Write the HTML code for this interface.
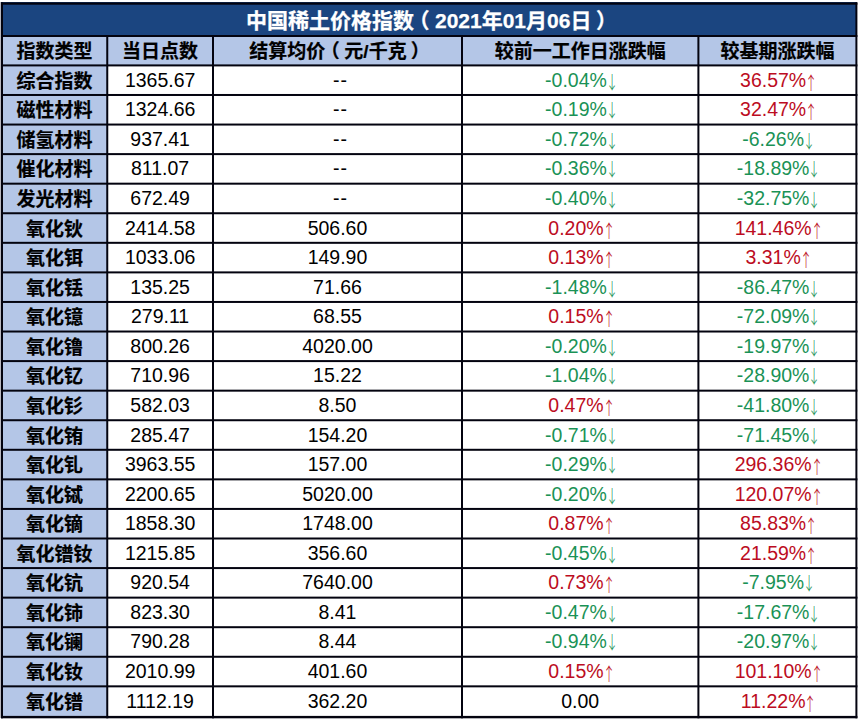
<!DOCTYPE html><html><head><meta charset="utf-8"><style>
html,body{margin:0;padding:0;background:#fff;width:859px;height:725px;overflow:hidden;position:relative}
.a{position:absolute}
.c{position:absolute;display:flex;align-items:center;justify-content:center;white-space:nowrap}
.t{font-family:"Liberation Sans","Noto Sans CJK SC",sans-serif;font-weight:700;-webkit-text-stroke:0.25px currentColor;color:#fff;font-size:21px}
.h{font-family:"Liberation Sans","Noto Sans CJK SC",sans-serif;font-weight:700;-webkit-text-stroke:0.2px currentColor;color:#000;font-size:19px}
.n{font-family:"Liberation Sans","Noto Sans CJK SC",sans-serif;color:#000;font-size:19.5px}
.g{color:#1a9256}
.r{color:#bc0c22}
.ac{display:inline-block;font-family:"Noto Sans CJK SC",sans-serif;font-weight:300;font-size:18px;margin-left:-4px;margin-right:-5.5px;position:relative;top:0px;transform:scaleX(0.7);opacity:1}
.acu{top:1.5px}
.pp{display:inline-block;width:21px;position:relative}
.hp{display:inline-block;width:19px;position:relative}
.dd{position:relative;left:3px;letter-spacing:1px}
svg.grid{position:absolute;left:0;top:0}

</style></head><body>
<div class="a" style="left:1px;top:2px;width:856px;height:33px;background:#1b4580"></div>
<div class="a" style="left:1px;top:35px;width:856px;height:30px;background:#b4c6e7"></div>
<div class="a" style="left:1px;top:65px;width:106px;height:652px;background:#b4c6e7"></div>
<div class="a" style="left:0;top:2px;width:1px;height:716px;background:#b8b8c0"></div>
<div class="c t" style="left:1px;top:3.7px;width:856.4px;height:30.3px">中国稀土价格指数<span class="pp" style="left:-5.5px">（</span>2021年01月06日<span class="pp" style="left:4.5px">）</span></div>
<div class="c h" style="left:3px;top:35.5px;width:103.25px;height:27.41px">指数类型</div>
<div class="c h" style="left:108.25px;top:35.5px;width:103.75px;height:27.41px">当日点数</div>
<div class="c h" style="left:214px;top:35.5px;width:247px;height:27.41px">结算均价<span class="hp" style="left:-4.5px">（</span>元/千克<span class="hp" style="left:4px">）</span></div>
<div class="c h" style="left:463px;top:35.5px;width:234.4px;height:27.41px">较前一工作日涨跌幅</div>
<div class="c h" style="left:699.4px;top:35.5px;width:156px;height:27.41px">较基期涨跌幅</div>
<div class="c h" style="left:3px;top:65.91px;width:103.25px;height:27.57px">综合指数</div>
<div class="c n" style="left:108.25px;top:66.91px;width:103.75px;height:27.57px">1365.67</div>
<div class="c n" style="left:214px;top:66.91px;width:247px;height:27.57px"><span class="dd">--</span></div>
<div class="c n g" style="left:463px;top:66.91px;width:234.4px;height:27.57px"><span class="v">-0.04%</span><span class="ac">↓</span></div>
<div class="c n r" style="left:699.4px;top:66.91px;width:156px;height:27.57px"><span class="v">36.57%</span><span class="ac acu">↑</span></div>
<div class="c h" style="left:3px;top:94.48px;width:103.25px;height:27.57px">磁性材料</div>
<div class="c n" style="left:108.25px;top:95.48px;width:103.75px;height:27.57px">1324.66</div>
<div class="c n" style="left:214px;top:95.48px;width:247px;height:27.57px"><span class="dd">--</span></div>
<div class="c n g" style="left:463px;top:95.48px;width:234.4px;height:27.57px"><span class="v">-0.19%</span><span class="ac">↓</span></div>
<div class="c n r" style="left:699.4px;top:95.48px;width:156px;height:27.57px"><span class="v">32.47%</span><span class="ac acu">↑</span></div>
<div class="c h" style="left:3px;top:125.05px;width:103.25px;height:27.57px">储氢材料</div>
<div class="c n" style="left:108.25px;top:126.05px;width:103.75px;height:27.57px">937.41</div>
<div class="c n" style="left:214px;top:126.05px;width:247px;height:27.57px"><span class="dd">--</span></div>
<div class="c n g" style="left:463px;top:126.05px;width:234.4px;height:27.57px"><span class="v">-0.72%</span><span class="ac">↓</span></div>
<div class="c n g" style="left:699.4px;top:126.05px;width:156px;height:27.57px"><span class="v">-6.26%</span><span class="ac">↓</span></div>
<div class="c h" style="left:3px;top:153.61px;width:103.25px;height:27.57px">催化材料</div>
<div class="c n" style="left:108.25px;top:154.61px;width:103.75px;height:27.57px">811.07</div>
<div class="c n" style="left:214px;top:154.61px;width:247px;height:27.57px"><span class="dd">--</span></div>
<div class="c n g" style="left:463px;top:154.61px;width:234.4px;height:27.57px"><span class="v">-0.36%</span><span class="ac">↓</span></div>
<div class="c n g" style="left:699.4px;top:154.61px;width:156px;height:27.57px"><span class="v">-18.89%</span><span class="ac">↓</span></div>
<div class="c h" style="left:3px;top:184.18px;width:103.25px;height:27.57px">发光材料</div>
<div class="c n" style="left:108.25px;top:185.18px;width:103.75px;height:27.57px">672.49</div>
<div class="c n" style="left:214px;top:185.18px;width:247px;height:27.57px"><span class="dd">--</span></div>
<div class="c n g" style="left:463px;top:185.18px;width:234.4px;height:27.57px"><span class="v">-0.40%</span><span class="ac">↓</span></div>
<div class="c n g" style="left:699.4px;top:185.18px;width:156px;height:27.57px"><span class="v">-32.75%</span><span class="ac">↓</span></div>
<div class="c h" style="left:3px;top:213.75px;width:103.25px;height:27.57px">氧化钬</div>
<div class="c n" style="left:108.25px;top:214.75px;width:103.75px;height:27.57px">2414.58</div>
<div class="c n" style="left:214px;top:214.75px;width:247px;height:27.57px">506.60</div>
<div class="c n r" style="left:463px;top:214.75px;width:234.4px;height:27.57px"><span class="v">0.20%</span><span class="ac acu">↑</span></div>
<div class="c n r" style="left:699.4px;top:214.75px;width:156px;height:27.57px"><span class="v">141.46%</span><span class="ac acu">↑</span></div>
<div class="c h" style="left:3px;top:242.32px;width:103.25px;height:27.57px">氧化铒</div>
<div class="c n" style="left:108.25px;top:243.32px;width:103.75px;height:27.57px">1033.06</div>
<div class="c n" style="left:214px;top:243.32px;width:247px;height:27.57px">149.90</div>
<div class="c n r" style="left:463px;top:243.32px;width:234.4px;height:27.57px"><span class="v">0.13%</span><span class="ac acu">↑</span></div>
<div class="c n r" style="left:699.4px;top:243.32px;width:156px;height:27.57px"><span class="v">3.31%</span><span class="ac acu">↑</span></div>
<div class="c h" style="left:3px;top:272.89px;width:103.25px;height:27.57px">氧化铥</div>
<div class="c n" style="left:108.25px;top:273.89px;width:103.75px;height:27.57px">135.25</div>
<div class="c n" style="left:214px;top:273.89px;width:247px;height:27.57px">71.66</div>
<div class="c n g" style="left:463px;top:273.89px;width:234.4px;height:27.57px"><span class="v">-1.48%</span><span class="ac">↓</span></div>
<div class="c n g" style="left:699.4px;top:273.89px;width:156px;height:27.57px"><span class="v">-86.47%</span><span class="ac">↓</span></div>
<div class="c h" style="left:3px;top:301.45px;width:103.25px;height:27.57px">氧化镱</div>
<div class="c n" style="left:108.25px;top:302.45px;width:103.75px;height:27.57px">279.11</div>
<div class="c n" style="left:214px;top:302.45px;width:247px;height:27.57px">68.55</div>
<div class="c n r" style="left:463px;top:302.45px;width:234.4px;height:27.57px"><span class="v">0.15%</span><span class="ac acu">↑</span></div>
<div class="c n g" style="left:699.4px;top:302.45px;width:156px;height:27.57px"><span class="v">-72.09%</span><span class="ac">↓</span></div>
<div class="c h" style="left:3px;top:332.02px;width:103.25px;height:27.57px">氧化镥</div>
<div class="c n" style="left:108.25px;top:333.02px;width:103.75px;height:27.57px">800.26</div>
<div class="c n" style="left:214px;top:333.02px;width:247px;height:27.57px">4020.00</div>
<div class="c n g" style="left:463px;top:333.02px;width:234.4px;height:27.57px"><span class="v">-0.20%</span><span class="ac">↓</span></div>
<div class="c n g" style="left:699.4px;top:333.02px;width:156px;height:27.57px"><span class="v">-19.97%</span><span class="ac">↓</span></div>
<div class="c h" style="left:3px;top:360.59px;width:103.25px;height:27.57px">氧化钇</div>
<div class="c n" style="left:108.25px;top:361.59px;width:103.75px;height:27.57px">710.96</div>
<div class="c n" style="left:214px;top:361.59px;width:247px;height:27.57px">15.22</div>
<div class="c n g" style="left:463px;top:361.59px;width:234.4px;height:27.57px"><span class="v">-1.04%</span><span class="ac">↓</span></div>
<div class="c n g" style="left:699.4px;top:361.59px;width:156px;height:27.57px"><span class="v">-28.90%</span><span class="ac">↓</span></div>
<div class="c h" style="left:3px;top:391.16px;width:103.25px;height:27.57px">氧化钐</div>
<div class="c n" style="left:108.25px;top:392.16px;width:103.75px;height:27.57px">582.03</div>
<div class="c n" style="left:214px;top:392.16px;width:247px;height:27.57px">8.50</div>
<div class="c n r" style="left:463px;top:392.16px;width:234.4px;height:27.57px"><span class="v">0.47%</span><span class="ac acu">↑</span></div>
<div class="c n g" style="left:699.4px;top:392.16px;width:156px;height:27.57px"><span class="v">-41.80%</span><span class="ac">↓</span></div>
<div class="c h" style="left:3px;top:420.23px;width:103.25px;height:27.57px">氧化铕</div>
<div class="c n" style="left:108.25px;top:421.23px;width:103.75px;height:27.57px">285.47</div>
<div class="c n" style="left:214px;top:421.23px;width:247px;height:27.57px">154.20</div>
<div class="c n g" style="left:463px;top:421.23px;width:234.4px;height:27.57px"><span class="v">-0.71%</span><span class="ac">↓</span></div>
<div class="c n g" style="left:699.4px;top:421.23px;width:156px;height:27.57px"><span class="v">-71.45%</span><span class="ac">↓</span></div>
<div class="c h" style="left:3px;top:449.29px;width:103.25px;height:27.57px">氧化钆</div>
<div class="c n" style="left:108.25px;top:450.29px;width:103.75px;height:27.57px">3963.55</div>
<div class="c n" style="left:214px;top:450.29px;width:247px;height:27.57px">157.00</div>
<div class="c n g" style="left:463px;top:450.29px;width:234.4px;height:27.57px"><span class="v">-0.29%</span><span class="ac">↓</span></div>
<div class="c n r" style="left:699.4px;top:450.29px;width:156px;height:27.57px"><span class="v">296.36%</span><span class="ac acu">↑</span></div>
<div class="c h" style="left:3px;top:479.86px;width:103.25px;height:27.57px">氧化铽</div>
<div class="c n" style="left:108.25px;top:480.86px;width:103.75px;height:27.57px">2200.65</div>
<div class="c n" style="left:214px;top:480.86px;width:247px;height:27.57px">5020.00</div>
<div class="c n g" style="left:463px;top:480.86px;width:234.4px;height:27.57px"><span class="v">-0.20%</span><span class="ac">↓</span></div>
<div class="c n r" style="left:699.4px;top:480.86px;width:156px;height:27.57px"><span class="v">120.07%</span><span class="ac acu">↑</span></div>
<div class="c h" style="left:3px;top:508.43px;width:103.25px;height:27.57px">氧化镝</div>
<div class="c n" style="left:108.25px;top:509.43px;width:103.75px;height:27.57px">1858.30</div>
<div class="c n" style="left:214px;top:509.43px;width:247px;height:27.57px">1748.00</div>
<div class="c n r" style="left:463px;top:509.43px;width:234.4px;height:27.57px"><span class="v">0.87%</span><span class="ac acu">↑</span></div>
<div class="c n r" style="left:699.4px;top:509.43px;width:156px;height:27.57px"><span class="v">85.83%</span><span class="ac acu">↑</span></div>
<div class="c h" style="left:3px;top:539px;width:103.25px;height:27.57px">氧化镨钕</div>
<div class="c n" style="left:108.25px;top:540px;width:103.75px;height:27.57px">1215.85</div>
<div class="c n" style="left:214px;top:540px;width:247px;height:27.57px">356.60</div>
<div class="c n g" style="left:463px;top:540px;width:234.4px;height:27.57px"><span class="v">-0.45%</span><span class="ac">↓</span></div>
<div class="c n r" style="left:699.4px;top:540px;width:156px;height:27.57px"><span class="v">21.59%</span><span class="ac acu">↑</span></div>
<div class="c h" style="left:3px;top:567.57px;width:103.25px;height:27.57px">氧化钪</div>
<div class="c n" style="left:108.25px;top:568.57px;width:103.75px;height:27.57px">920.54</div>
<div class="c n" style="left:214px;top:568.57px;width:247px;height:27.57px">7640.00</div>
<div class="c n r" style="left:463px;top:568.57px;width:234.4px;height:27.57px"><span class="v">0.73%</span><span class="ac acu">↑</span></div>
<div class="c n g" style="left:699.4px;top:568.57px;width:156px;height:27.57px"><span class="v">-7.95%</span><span class="ac">↓</span></div>
<div class="c h" style="left:3px;top:598.13px;width:103.25px;height:27.57px">氧化铈</div>
<div class="c n" style="left:108.25px;top:599.13px;width:103.75px;height:27.57px">823.30</div>
<div class="c n" style="left:214px;top:599.13px;width:247px;height:27.57px">8.41</div>
<div class="c n g" style="left:463px;top:599.13px;width:234.4px;height:27.57px"><span class="v">-0.47%</span><span class="ac">↓</span></div>
<div class="c n g" style="left:699.4px;top:599.13px;width:156px;height:27.57px"><span class="v">-17.67%</span><span class="ac">↓</span></div>
<div class="c h" style="left:3px;top:626.7px;width:103.25px;height:27.57px">氧化镧</div>
<div class="c n" style="left:108.25px;top:627.7px;width:103.75px;height:27.57px">790.28</div>
<div class="c n" style="left:214px;top:627.7px;width:247px;height:27.57px">8.44</div>
<div class="c n g" style="left:463px;top:627.7px;width:234.4px;height:27.57px"><span class="v">-0.94%</span><span class="ac">↓</span></div>
<div class="c n g" style="left:699.4px;top:627.7px;width:156px;height:27.57px"><span class="v">-20.97%</span><span class="ac">↓</span></div>
<div class="c h" style="left:3px;top:656.27px;width:103.25px;height:27.57px">氧化钕</div>
<div class="c n" style="left:108.25px;top:657.27px;width:103.75px;height:27.57px">2010.99</div>
<div class="c n" style="left:214px;top:657.27px;width:247px;height:27.57px">401.60</div>
<div class="c n r" style="left:463px;top:657.27px;width:234.4px;height:27.57px"><span class="v">0.15%</span><span class="ac acu">↑</span></div>
<div class="c n r" style="left:699.4px;top:657.27px;width:156px;height:27.57px"><span class="v">101.10%</span><span class="ac acu">↑</span></div>
<div class="c h" style="left:3px;top:686.84px;width:103.25px;height:27.57px">氧化镨</div>
<div class="c n" style="left:108.25px;top:687.84px;width:103.75px;height:27.57px">1112.19</div>
<div class="c n" style="left:214px;top:687.84px;width:247px;height:27.57px">362.20</div>
<div class="c n " style="left:463px;top:687.84px;width:234.4px;height:27.57px">0.00</div>
<div class="c n r" style="left:699.4px;top:687.84px;width:156px;height:27.57px"><span class="v">11.22%</span><span class="ac acu">↑</span></div>
<svg class="grid" width="859" height="725" viewBox="0 0 859 725" fill="#03030f">
<rect x="1" y="2.4" width="856.4" height="2.3"/>
<rect x="1" y="35" width="856.4" height="2"/>
<rect x="1" y="64.41" width="856.4" height="2"/>
<rect x="1" y="93.98" width="856.4" height="2"/>
<rect x="1" y="123.55" width="856.4" height="2"/>
<rect x="1" y="153.11" width="856.4" height="2"/>
<rect x="1" y="182.68" width="856.4" height="2"/>
<rect x="1" y="212.25" width="856.4" height="2"/>
<rect x="1" y="241.82" width="856.4" height="2"/>
<rect x="1" y="271.39" width="856.4" height="2"/>
<rect x="1" y="300.95" width="856.4" height="2"/>
<rect x="1" y="330.52" width="856.4" height="2"/>
<rect x="1" y="360.09" width="856.4" height="2"/>
<rect x="1" y="389.66" width="856.4" height="2"/>
<rect x="1" y="419.23" width="856.4" height="2"/>
<rect x="1" y="448.79" width="856.4" height="2"/>
<rect x="1" y="478.36" width="856.4" height="2"/>
<rect x="1" y="507.93" width="856.4" height="2"/>
<rect x="1" y="537.5" width="856.4" height="2"/>
<rect x="1" y="567.07" width="856.4" height="2"/>
<rect x="1" y="596.63" width="856.4" height="2"/>
<rect x="1" y="626.2" width="856.4" height="2"/>
<rect x="1" y="655.77" width="856.4" height="2"/>
<rect x="1" y="685.34" width="856.4" height="2"/>
<rect x="1" y="715.9" width="856.4" height="2.4"/>
<rect x="1" y="2.4" width="2" height="715.9"/>
<rect x="106.25" y="35" width="2" height="683.3"/>
<rect x="212" y="35" width="2" height="683.3"/>
<rect x="461" y="35" width="2" height="683.3"/>
<rect x="697.4" y="35" width="2" height="683.3"/>
<rect x="855.4" y="2.4" width="2" height="715.9"/>
</svg>
</body></html>
